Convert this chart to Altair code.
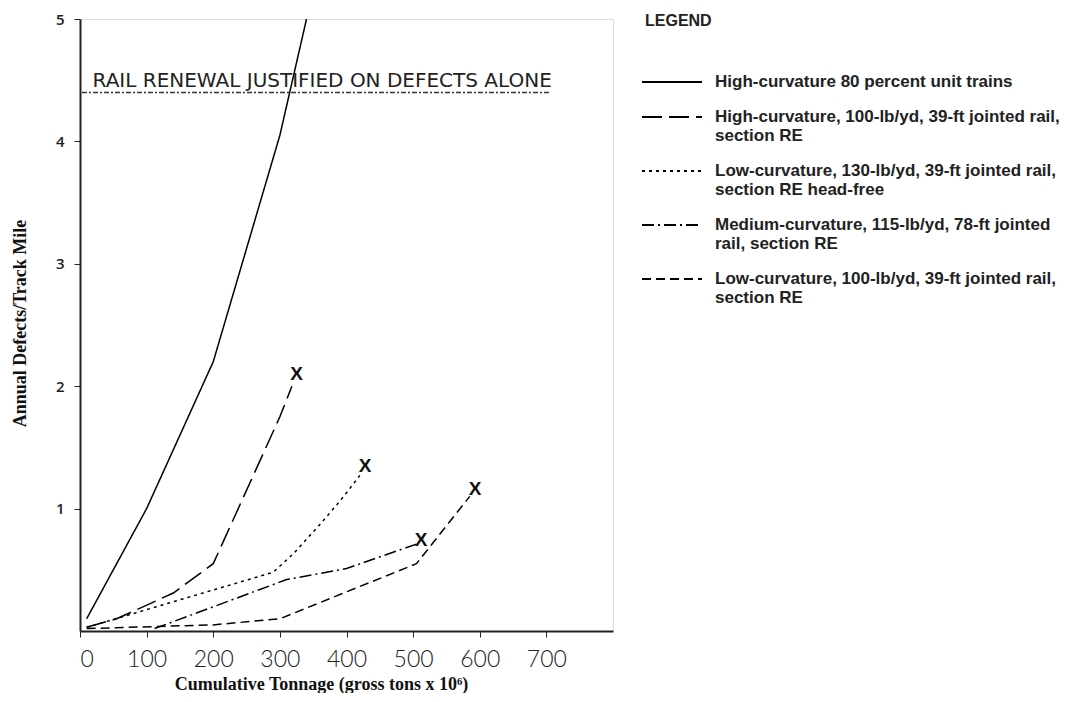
import altair as alt
import pandas as pd

# ---- data ----
IND = "\u00a0" * 6
series_names = [
    "High-curvature 80 percent unit trains",
    "High-curvature, 100-lb/yd, 39-ft jointed rail,|" + IND + "section RE",
    "Low-curvature, 130-lb/yd, 39-ft jointed rail,|" + IND + "section RE head-free",
    "Medium-curvature, 115-lb/yd, 78-ft jointed|" + IND + "rail, section RE",
    "Low-curvature, 100-lb/yd, 39-ft jointed rail,|" + IND + "section RE",
]
s1_x = [10, 100, 200, 300, 340]
s1_y = [0.10, 1.00, 2.20, 4.05, 5.00]
s2_x = [10, 55, 140, 200, 300, 318]
s2_y = [0.03, 0.10, 0.31, 0.55, 1.75, 2.00]
s3_x = [10, 290, 320, 360, 390, 420]
s3_y = [0.03, 0.48, 0.63, 0.87, 1.06, 1.27]
s4_x = [112, 310, 400, 505]
s4_y = [0.02, 0.42, 0.51, 0.71]
s5_x = [10, 200, 300, 505, 585]
s5_y = [0.02, 0.05, 0.10, 0.55, 1.10]

marker_x = [325, 428, 512, 593]
marker_y = [2.10, 1.35, 0.74, 1.16]

renewal_x = [3, 704]
renewal_level = 4.4
renewal_text = "RAIL RENEWAL JUSTIFIED ON DEFECTS ALONE"

x_ticks = [0, 100, 200, 300, 400, 500, 600, 700]
y_ticks = [1, 2, 3, 4, 5]

dash_patterns = [[1, 0], [20, 7], [3, 4], [12, 4, 2, 4], [9, 5]]

# ---- build tables ----
rows = []
for name, xs, ys in zip(series_names, [s1_x, s2_x, s3_x, s4_x, s5_x],
                        [s1_y, s2_y, s3_y, s4_y, s5_y]):
    for i, (xv, yv) in enumerate(zip(xs, ys)):
        rows.append({"series": name, "x": xv, "y": yv, "i": i})
df = pd.DataFrame(rows)
markers = pd.DataFrame({"x": marker_x, "y": marker_y, "t": ["X"] * len(marker_x)})
renew = pd.DataFrame({"x": renewal_x, "y": [renewal_level] * 2, "i": [0, 1]})
renew_lbl = pd.DataFrame({"x": [(renewal_x[0] + renewal_x[1]) / 2 + 10],
                          "y": [renewal_level], "t": [renewal_text]})

xscale = alt.Scale(domain=[0, 800], nice=False, zero=True)
yscale = alt.Scale(domain=[0, 5], nice=False)

xaxis = alt.Axis(values=x_ticks, title="Cumulative Tonnage (gross tons x 10\u2076)",
                 grid=False, labelFont="Lato", labelFontSize=23, labelFontWeight=300,
                 labelColor="#222", labelPadding=11, tickSize=6, tickColor="#222",
                 domainColor="#222", domainWidth=2, titleFont="Liberation Serif",
                 titleFontSize=18, titleFontWeight="bold", titleColor="#111",
                 titleX=241, titleY=53, titleAnchor="middle", titleBaseline="middle")
yaxis = alt.Axis(values=y_ticks, format="d", title="Annual Defects/Track Mile", grid=False,
                 labelFont="Open Sans", labelFontSize=15, labelFontWeight=600,
                 labelColor="#222", labelPadding=10, tickSize=6, tickColor="#222",
                 domainColor="#222", domainWidth=2, titleFont="Liberation Serif",
                 titleFontSize=18, titleFontWeight="bold", titleColor="#111",
                 titleX=-60, titleY=304, titleAnchor="middle", titleBaseline="middle")

lines = alt.Chart(df).mark_line(strokeWidth=1.5, color="black").encode(
    x=alt.X("x:Q", scale=xscale, axis=xaxis),
    y=alt.Y("y:Q", scale=yscale, axis=yaxis),
    strokeDash=alt.StrokeDash(
        "series:N",
        scale=alt.Scale(domain=series_names, range=dash_patterns),
        sort=series_names,
        legend=alt.Legend(
            title="LEGEND", orient="none", legendX=565, legendY=-6,
            titleFont="Liberation Sans", titleFontSize=16, titleFontWeight="bold",
            titleColor="#222", titlePadding=26,
            symbolType="M-1.154,0H1.154", symbolSize=2704, symbolStrokeWidth=1.8,
            symbolStrokeColor="black", symbolFillColor="transparent",
            labelFont="Liberation Sans",
            labelFontSize=17, labelFontWeight="bold", labelColor="#222",
            labelLimit=600, labelOffset=16, rowPadding=0,
            labelExpr="split(datum.label, '|')", labelBaseline="middle",
        ),
    ),
    order="i:O",
)

renew_line = alt.Chart(renew).mark_line(strokeWidth=1.6, color="#333",
                                        strokeDash=[5, 2, 2, 2]).encode(
    x=alt.X("x:Q", scale=xscale), y=alt.Y("y:Q", scale=yscale))

renew_text = alt.Chart(renew_lbl).mark_text(
    font="DejaVu Sans", fontSize=20, color="#222", dy=-5, baseline="alphabetic").encode(
    x=alt.X("x:Q", scale=xscale), y=alt.Y("y:Q", scale=yscale), text="t:N")

marks = alt.Chart(markers).mark_text(
    font="Liberation Sans", fontSize=19, fontWeight="bold", color="#111").encode(
    x=alt.X("x:Q", scale=xscale), y=alt.Y("y:Q", scale=yscale), text="t:N")

chart = alt.layer(lines, renew_line, renew_text, marks).properties(
    width=533, height=612,
    autosize=alt.AutoSizeParams(type="none"),
    padding={"left": 72, "top": 11, "right": 448, "bottom": 62},
).configure_view(stroke="#333", strokeWidth=1.2).configure(background="white")

chart.save("out.html", embed_options={"renderer": "svg", "actions": False})
